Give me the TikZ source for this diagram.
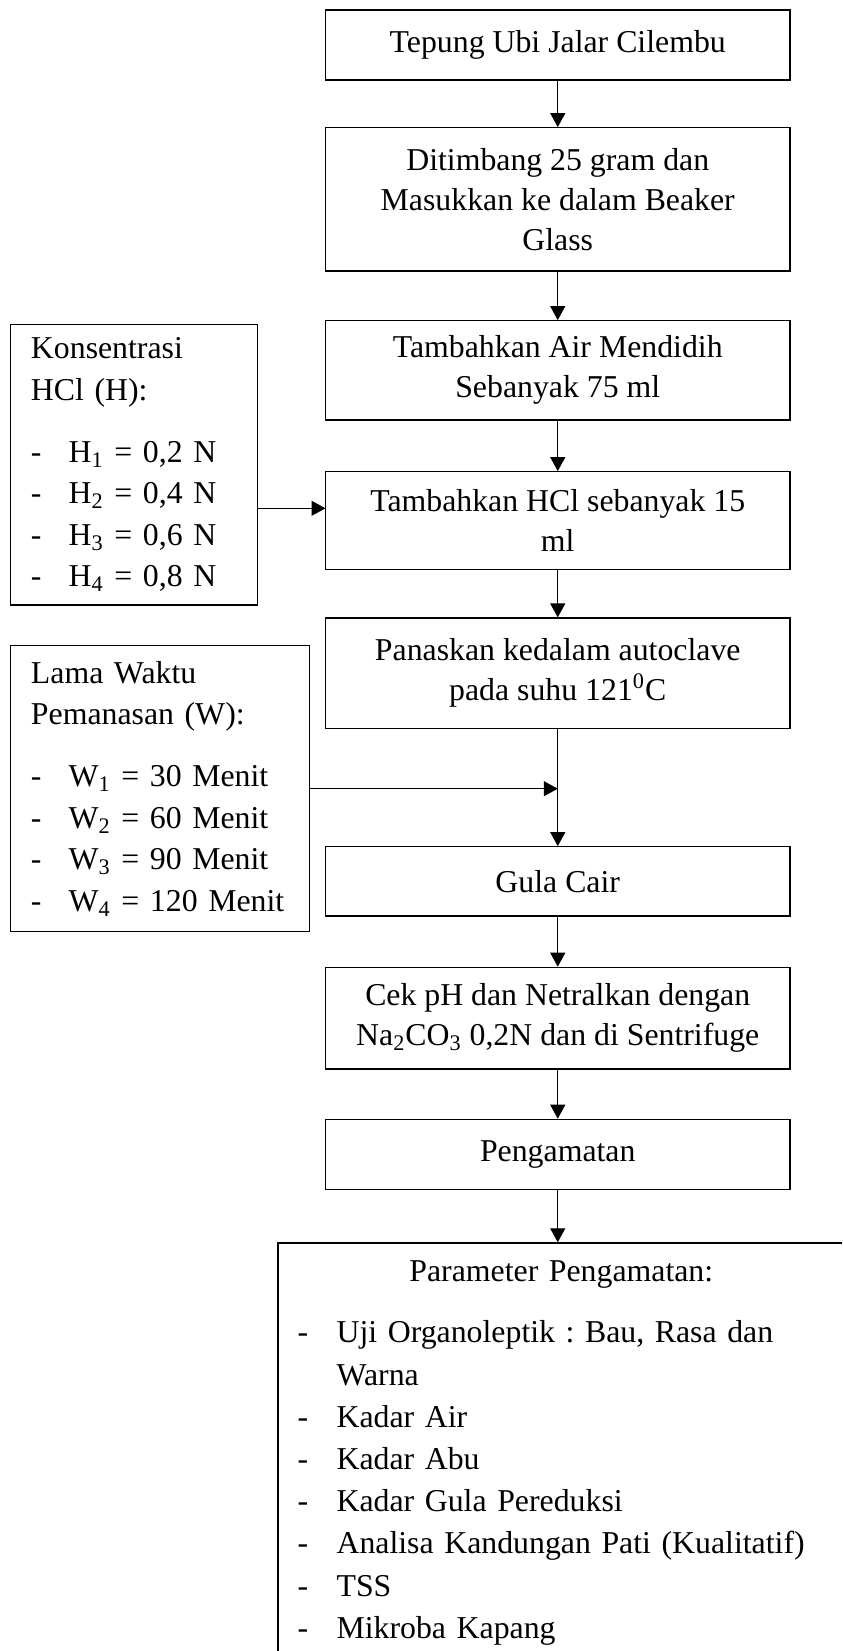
\documentclass[tikz,border=0pt]{standalone}
\usepackage{fontspec}
\setmainfont{Liberation Serif}
\usetikzlibrary{arrows.meta}
\frenchspacing

% dash in front of a list item
\newcommand{\butir}[2][18.85pt]{\makebox[#1][l]{-}#2}

\tikzset{
  proses/.style={draw, line width=0.6pt, minimum width=232.25pt, inner sep=0pt, align=center},
  faktor/.style={draw, line width=0.6pt, inner xsep=10.15pt, inner ysep=0pt, align=left,
    font=\fontsize{15.9}{20.75}\selectfont},
  panah/.style={-{Triangle[length=7pt,width=7.5pt]}, line width=0.6pt}
}

\begin{document}
\begin{tikzpicture}[x=0.5pt, y=-0.5pt, font=\fontsize{15.9}{20}\selectfont]
  \useasboundingbox (0,0) rectangle (842,1651);
  \clip (0,0) rectangle (842,1651);

  % main process column
  \node[proses, minimum height=35pt] (tepung) at (557.75,45) {Tepung Ubi Jalar Cilembu};
  \node[proses, minimum height=71.65pt] (timbang) at (557.75,199.35)
    {Ditimbang 25 gram dan\\ Masukkan ke dalam Beaker\\ Glass};
  \node[proses, minimum height=49.65pt] (air) at (557.75,370.35)
    {Tambahkan Air Mendidih\\ Sebanyak 75 ml};
  \node[proses, minimum height=48.8pt] (hcl) at (557.75,520.5)
    {Tambahkan HCl sebanyak 15\\ ml};
  \node[proses, minimum height=55.15pt] (panas) at (557.75,673.15)
    {Panaskan kedalam autoclave\\ pada suhu 121\textsuperscript{0}C};
  \node[proses, minimum height=34.65pt] (gula) at (557.75,881.35) {Gula Cair};
  \node[proses, minimum height=50.85pt] (cek) at (557.75,1018.15)
    {Cek pH dan Netralkan dengan\\ Na\textsubscript{2}CO\textsubscript{3} 0,2N dan di Sentrifuge};
  \node[proses, minimum height=35.15pt] (peng) at (557.75,1154.45) {Pengamatan};

  % treatment factors
  \node[faktor, minimum width=123.55pt, minimum height=140.35pt, text width=103.25pt] (kons) at (134.25,464.65)
    {Konsentrasi\\ HCl (H):\\[10.25pt]
     \butir{H\textsubscript{1} = 0,2 N}\\ \butir{H\textsubscript{2} = 0,4 N}\\
     \butir{H\textsubscript{3} = 0,6 N}\\ \butir{H\textsubscript{4} = 0,8 N}};
  \node[faktor, minimum width=149.3pt, minimum height=143pt, text width=129pt] (lama) at (160,788.7)
    {Lama Waktu\\ Pemanasan (W):\\[10.25pt]
     \butir{W\textsubscript{1} = 30 Menit}\\ \butir{W\textsubscript{2} = 60 Menit}\\
     \butir{W\textsubscript{3} = 90 Menit}\\ \butir{W\textsubscript{4} = 120 Menit}};

  % observed parameters
  \node[faktor, anchor=north west, inner xsep=9.8pt, inner ysep=8.85pt, text width=263.7pt,
    font=\fontsize{15.9}{21.1}\selectfont] (param) at (277.4,1242.3)
    {\makebox[263.7pt]{Parameter Pengamatan:}\\[9.6pt]
     \butir[19.5pt]{Uji Organoleptik : Bau, Rasa dan}\\ \hspace*{19.5pt}Warna\\
     \butir[19.5pt]{Kadar Air}\\ \butir[19.5pt]{Kadar Abu}\\
     \butir[19.5pt]{Kadar Gula Pereduksi}\\ \butir[19.5pt]{Analisa Kandungan Pati (Kualitatif)}\\
     \butir[19.5pt]{TSS}\\ \butir[19.5pt]{Mikroba Kapang}};

  \coordinate (hclin) at (325.5,508.3);

  \foreach \a/\b in {tepung/timbang, timbang/air, air/hcl, hcl/panas, panas/gula, gula/cek, cek/peng}
    \draw[panah] (\a.south) -- (\b.north);
  \draw[panah] (peng.south) -- (peng.south |- param.north);
  \draw[panah] (kons.east |- hclin) -- (hclin);
  \draw[panah] (lama.east) -- (lama.east -| panas.south);
\end{tikzpicture}
\end{document}
